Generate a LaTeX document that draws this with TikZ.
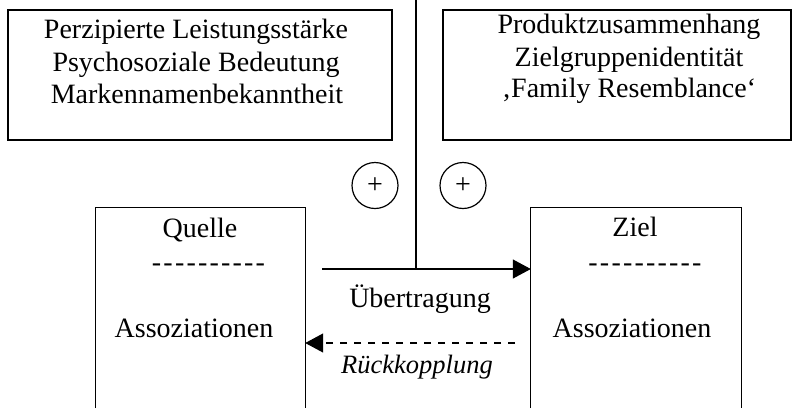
\documentclass[tikz,border=0pt]{standalone}
\usepackage{fontspec}
\setmainfont{Liberation Serif}
\usetikzlibrary{arrows.meta}
\newcommand\mydk{\kern2.2bp}
\newcommand\mydashes{-\mydk-\mydk-\mydk-\mydk-\mydk-\mydk-\mydk-\mydk-\mydk-}
\begin{document}
\begin{tikzpicture}[x=1bp,y=-1bp,
  box/.style={draw, line width=1.2bp, rectangle, inner sep=0},
  txt/.style={inner sep=0, anchor=base, font=\fontsize{28bp}{33bp}\selectfont},
  ln/.style={line width=1.2bp},
  tip/.style={-{Triangle[length=18bp,width=19bp]}},
  plus/.style={draw, circle, line width=1.2bp, minimum size=46bp, inner sep=0, font=\fontsize{28bp}{33bp}\selectfont}]
\useasboundingbox (0,0) rectangle (792,408);
% top boxes
\node[box, minimum width=384bp, minimum height=130bp] (tl) at (200,75) {};
\node[txt] (tl1) at (196,38) {Perzipierte Leistungsstärke};
\node[txt] (tl2) at (196,71) {Psychosoziale Bedeutung};
\node[txt] (tl3) at (197,103) {Markennamenbekanntheit};
\node[box, minimum width=348bp, minimum height=130bp] (tr) at (617,75) {};
\node[txt] (tr1) at (629,33) {Produktzusammenhang};
\node[txt] (tr2) at (629,66) {Zielgruppenidentität};
\node[txt] (tr3) at (629,97) {‚Family Resemblance‘};
% lower boxes (open at bottom)
\node[inner sep=0, minimum width=209bp, minimum height=200bp] (quelle) at (200.5,308) {};
\draw[ln] (quelle.south west) -- (quelle.north west) -- (quelle.north east) -- (quelle.south east);
\node[inner sep=0, minimum width=210bp, minimum height=200bp] (ziel) at (636,308) {};
\draw[ln] (ziel.south west) -- (ziel.north west) -- (ziel.north east) -- (ziel.south east);
\node[txt] (qt) at (200,237) {Quelle};
\node[txt] (qd) at (208.5,271) {\mydashes};
\node[txt] (qa) at (194,337) {Assoziationen};
\node[txt] (zt) at (635,236) {Ziel};
\node[txt] (zd) at (645,271) {\mydashes};
\node[txt] (za) at (632,337) {Assoziationen};
% plus circles
\node[plus] (p1) at (375,185.5) {+};
\node[plus] (p2) at (463,185.5) {+};
% vertical line and arrows
\coordinate (vtop) at (416,0);
\coordinate (vjoin) at (416,269);
\draw[ln] (vtop) -- (vjoin);
\coordinate (ustart) at (322,269);
\draw[ln, tip] (ustart) -- (ustart -| ziel.west);
\node[txt] (ue) at (420,307) {Übertragung};
\coordinate (rstart) at (515,343);
\draw[ln, tip, dash pattern=on 7bp off 7bp] (rstart) -- (rstart -| quelle.east);
\node[txt, font=\fontsize{26.5bp}{32bp}\selectfont\itshape] (rk) at (417,373) {Rückkopplung};
\end{tikzpicture}
\end{document}
